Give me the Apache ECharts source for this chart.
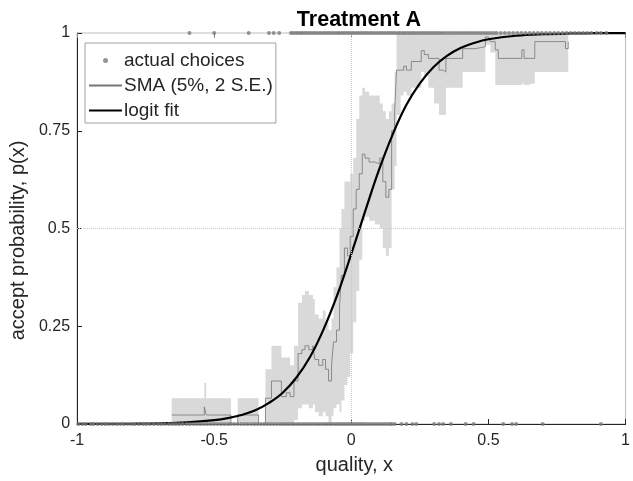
<!DOCTYPE html>
<html>
<head>
<meta charset="utf-8">
<script src="https://cdn.jsdelivr.net/npm/echarts@6/dist/echarts.min.js"></script>
<style>html,body{margin:0;padding:0;background:#fff;}#c{width:633px;height:481px;}</style>
</head>
<body>
<div id="c"></div>
<script>
// ---- data ----
var xTicks = [-1, -0.5, 0, 0.5, 1];
var yTicks = [0, 0.25, 0.5, 0.75, 1];

// quality values of rejected (0) and accepted (1) choices
var choice0X = [-0.995,-0.98,-0.968,-0.95,-0.94,-0.925,-0.91,-0.897,-0.885,-0.87,-0.855,-0.842,-0.83,-0.815,-0.8,-0.79,-0.775,-0.76,-0.748,-0.735,-0.72,-0.705,-0.693,-0.68,-0.665,-0.652,-0.64,-0.628,-0.615,-0.6,-0.588,-0.575,-0.562,-0.55,-0.537,-0.525,-0.512,-0.5,-0.488,-0.475,-0.463,-0.45,-0.44,-0.428,-0.415,-0.402,-0.39,-0.378,-0.365,-0.353,-0.342,-0.33,-0.318,-0.306,-0.295,-0.284,-0.272,-0.26,-0.25,-0.24,-0.229,-0.218,-0.208,-0.197,-0.187,-0.176,-0.166,-0.156,-0.146,-0.136,-0.126,-0.116,-0.106,-0.096,-0.087,-0.077,-0.068,-0.058,-0.049,-0.04,-0.031,-0.022,-0.013,-0.004,0.005,0.014,0.023,0.032,0.041,0.05,0.06,0.07,0.08,0.09,0.1,0.11,0.12,0.13,0.14,0.147,0.158,0.183,0.201,0.223,0.237,0.302,0.32,0.335,0.363,0.417,0.446,0.554,0.586,0.601,0.698,0.91];
var choice1X = [-0.59,-0.5,-0.374,-0.3,-0.283,-0.263,-0.22,-0.212,-0.203,-0.195,-0.186,-0.178,-0.169,-0.161,-0.152,-0.144,-0.135,-0.127,-0.118,-0.11,-0.101,-0.093,-0.084,-0.076,-0.067,-0.059,-0.05,-0.042,-0.033,-0.025,-0.016,-0.008,0.001,0.009,0.018,0.026,0.035,0.043,0.052,0.06,0.069,0.077,0.086,0.094,0.103,0.111,0.12,0.128,0.137,0.145,0.154,0.162,0.171,0.179,0.188,0.196,0.205,0.214,0.222,0.231,0.24,0.249,0.258,0.267,0.276,0.285,0.294,0.303,0.312,0.321,0.33,0.34,0.35,0.36,0.37,0.38,0.39,0.4,0.41,0.42,0.43,0.44,0.45,0.46,0.47,0.48,0.49,0.5,0.51,0.52,0.53,0.545,0.56,0.575,0.59,0.605,0.62,0.635,0.65,0.665,0.68,0.695,0.71,0.725,0.74,0.755,0.77,0.785,0.8,0.815,0.83,0.845,0.86,0.875,0.895,0.91,0.93];

// simple moving average and its 2 S.E. band
var smaX  = [-0.655,-0.536,-0.529,-0.439,-0.414,-0.338,-0.313,-0.291,-0.255,-0.237,-0.223,-0.209,-0.194,-0.18,-0.169,-0.155,-0.14,-0.133,-0.119,-0.104,-0.094,-0.083,-0.072,-0.065,-0.054,-0.043,-0.036,-0.025,-0.014,-0.004,0.007,0.018,0.029,0.04,0.05,0.065,0.086,0.104,0.115,0.126,0.137,0.147,0.158,0.165,0.18,0.191,0.201,0.219,0.255,0.266,0.281,0.302,0.32,0.335,0.345,0.406,0.453,0.489,0.5,0.507,0.525,0.536,0.622,0.63,0.651,0.669,0.781,0.791];
var smaP  = [0.023,0.044,0.023,0,0.023,0,0.066,0.11,0.07,0.08,0.07,0.11,0.18,0.19,0.2,0.19,0.2,0.165,0.15,0.165,0.14,0.11,0.15,0.21,0.24,0.3,0.38,0.45,0.43,0.48,0.55,0.6,0.64,0.69,0.68,0.67,0.665,0.68,0.62,0.58,0.6,0.75,0.8,0.905,0.905,0.915,0.905,0.927,0.955,0.945,0.935,0.935,0.905,0.9,0.935,0.96,0.965,0.99,0.985,0.978,0.957,0.935,0.957,0.935,0.935,0.978,0.96,0.978];
var smaLo = [0,0,0,0,0,0,0,0,0,0,0,0.01,0.04,0.05,0.05,0.04,0.05,0.03,0.02,0.03,0.02,0,0.02,0.04,0.05,0.03,0.06,0.1,0.12,0.18,0.26,0.34,0.42,0.52,0.53,0.52,0.51,0.5,0.45,0.43,0.45,0.6,0.66,0.79,0.84,0.85,0.84,0.86,0.9,0.89,0.86,0.82,0.79,0.79,0.86,0.9,0.9,0.97,0.97,0.95,0.867,0.867,0.87,0.867,0.87,0.9,0.9,0.9];
var smaHi = [0.066,0.105,0.066,0,0.066,0,0.14,0.2,0.17,0.17,0.15,0.2,0.31,0.33,0.34,0.33,0.32,0.28,0.27,0.29,0.26,0.24,0.27,0.35,0.4,0.5,0.55,0.62,0.62,0.64,0.68,0.78,0.84,0.86,0.85,0.84,0.84,0.82,0.8,0.78,0.8,0.82,0.9,1,1,1,1,1,1,1,1,1,1,1,1,1,1,1,1,1,1,1,1,1,1,1,1,1];

// logit fit read at regular quality values
var logitX = [-1,-0.9,-0.8,-0.7,-0.6,-0.5,-0.45,-0.4,-0.35,-0.3,-0.25,-0.2,-0.15,-0.1,-0.05,0,0.05,0.1,0.15,0.2,0.25,0.3,0.35,0.4,0.45,0.5,0.6,0.7,0.8,0.9,1];
var logitP = [0.0001,0.0003,0.0007,0.0017,0.0042,0.0099,0.015,0.023,0.035,0.054,0.08,0.119,0.172,0.244,0.332,0.435,0.543,0.648,0.739,0.815,0.871,0.913,0.942,0.962,0.975,0.984,0.993,0.997,0.9988,0.9995,0.9998];

// ---- chart ----
var FONT = 'Liberation Sans, Arial, Helvetica, sans-serif';
var TXT = '#262626';
var chart = echarts.init(document.getElementById('c'), null, {renderer: 'canvas'});

var dots = choice0X.map(function (x) { return [x, 0]; })
  .concat(choice1X.map(function (x) { return [x, 1]; }));
var sma = smaX.map(function (x, i) { return [x, smaP[i]]; });
var logit = logitX.map(function (x, i) { return [x, logitP[i]]; });

function renderBand(params, api) {
  var top = [], bot = [];
  var n = smaX.length;
  for (var i = 0; i < n; i++) {
    var x0 = smaX[i];
    var x1 = i < n - 1 ? smaX[i + 1] : smaX[i];
    top.push(api.coord([x0, smaHi[i]]), api.coord([x1, smaHi[i]]));
    bot.push(api.coord([x0, smaLo[i]]), api.coord([x1, smaLo[i]]));
  }
  return {
    type: 'polygon',
    shape: {points: top.concat(bot.reverse())},
    style: {fill: '#d9d9d9', stroke: null}
  };
}

var noSym = {color: 'rgba(0,0,0,0)', borderWidth: 0};

chart.setOption({
  animation: false,
  backgroundColor: '#fff',
  title: {
    text: 'Treatment A', left: 354, top: 4, textAlign: 'center',
    textStyle: {fontFamily: FONT, fontSize: 21.5, fontWeight: 'bold', color: '#000'}
  },
  grid: {left: 76, right: 1, top: 33, bottom: 57, show: true, borderColor: '#bdbdbd', borderWidth: 1},
  legend: {
    orient: 'vertical', left: 85, top: 43,
    padding: [8, 3, 3, 3], itemGap: 6, itemWidth: 33, itemHeight: 5,
    borderColor: '#a0a0a0', borderWidth: 1, backgroundColor: '#fff',
    textStyle: {fontFamily: FONT, fontSize: 19, color: TXT, padding: [0, 0, 0, -3]},
    data: [
      {name: 'actual choices'},
      {name: 'SMA (5%, 2 S.E.)', itemStyle: noSym},
      {name: 'logit fit', itemStyle: noSym}
    ]
  },
  xAxis: [{
    type: 'value', min: -1, max: 1, interval: 0.5,
    name: 'quality, x', nameLocation: 'middle', nameGap: 31,
    nameTextStyle: {fontFamily: FONT, fontSize: 20, color: TXT, padding: [0, 0, 0, 6]},
    axisLine: {show: true, onZero: false, lineStyle: {color: TXT, width: 1}},
    axisTick: {show: true, inside: true, length: 5, lineStyle: {color: TXT}},
    axisLabel: {fontFamily: FONT, fontSize: 16, color: TXT, margin: 9,
      formatter: function (v) { return xTicks.indexOf(v) >= 0 ? String(v) : ''; }},
    splitLine: {show: false}
  }, {
    type: 'value', min: -1, max: 1, interval: 0.5, position: 'top',
    axisLine: {show: false, onZero: false}, axisLabel: {show: false}, splitLine: {show: false},
    axisTick: {show: true, inside: true, length: 5, lineStyle: {color: '#888'}}
  }],
  yAxis: {
    type: 'value', min: 0, max: 1, interval: 0.25,
    name: 'accept probability, p(x)', nameLocation: 'middle', nameGap: 36,
    nameTextStyle: {fontFamily: FONT, fontSize: 20, color: TXT, padding: [0, 24, 0, 0]},
    axisLine: {show: true, onZero: false, lineStyle: {color: TXT, width: 1}},
    axisTick: {show: true, inside: true, length: 5, lineStyle: {color: TXT}},
    axisLabel: {fontFamily: FONT, fontSize: 16, color: TXT, margin: 7,
      formatter: function (v) { return yTicks.indexOf(v) >= 0 ? String(v) : ''; }},
    splitLine: {show: false}
  },
  series: [
    {
      name: 'band', type: 'custom', coordinateSystem: 'cartesian2d',
      renderItem: renderBand, data: [[smaX[0], smaLo[0]]], silent: true, z: 1
    },
    {
      name: 'ref', type: 'line', data: [], z: 2, silent: true,
      markLine: {
        silent: true, symbol: 'none', label: {show: false},
        lineStyle: {color: '#c8c8c8', type: 'dotted', width: 1},
        data: [{xAxis: 0}, {yAxis: 0.5}]
      }
    },
    {
      name: 'SMA (5%, 2 S.E.)', type: 'line', step: 'end', data: sma, symbol: 'none',
      lineStyle: {color: '#767676', width: 0.8}, itemStyle: {color: '#767676'}, z: 3
    },
    {
      name: 'logit fit', type: 'line', data: logit, smooth: 0.4, symbol: 'none',
      lineStyle: {color: '#000', width: 2.2}, itemStyle: {color: '#000'}, z: 4
    },
    {
      name: 'actual choices', type: 'scatter', data: dots, symbol: 'circle', symbolSize: 4,
      itemStyle: {color: '#7a7a7a'}, clip: false, z: 5
    }
  ]
});
</script>
</body>
</html>
